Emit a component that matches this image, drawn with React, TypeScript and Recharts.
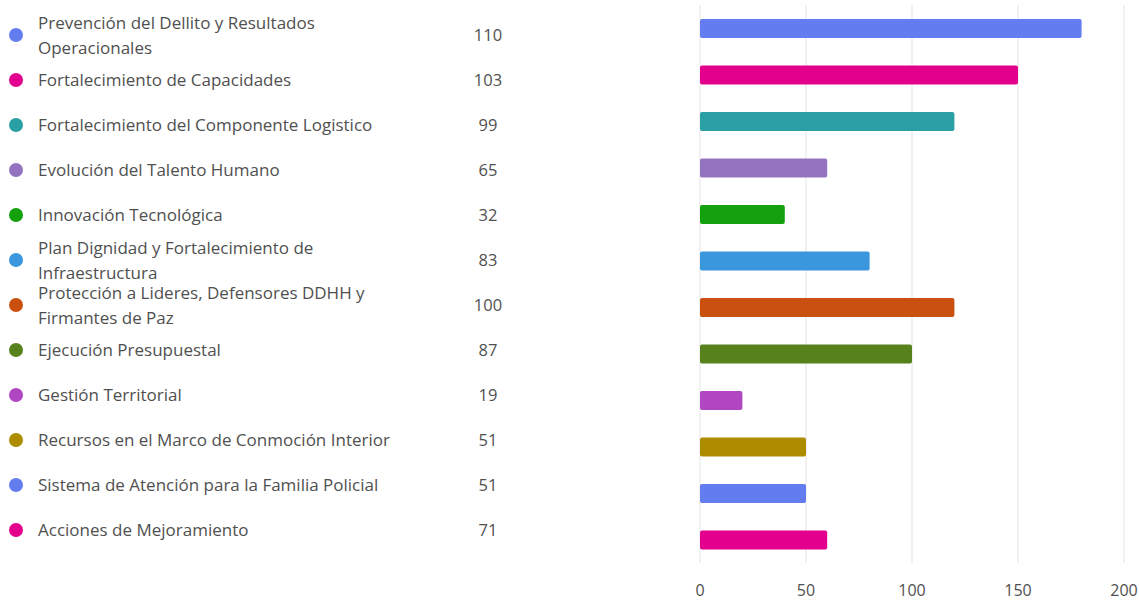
import React from 'react';
import { BarChart, Bar, XAxis, YAxis, CartesianGrid, Cell } from 'recharts';

const categories = [
  'Prevención del Dellito y Resultados\nOperacionales',
  'Fortalecimiento de Capacidades',
  'Fortalecimiento del Componente Logistico',
  'Evolución del Talento Humano',
  'Innovación Tecnológica',
  'Plan Dignidad y Fortalecimiento de\nInfraestructura',
  'Protección a Lideres, Defensores DDHH y\nFirmantes de Paz',
  'Ejecución Presupuestal',
  'Gestión Territorial',
  'Recursos en el Marco de Conmoción Interior',
  'Sistema de Atención para la Familia Policial',
  'Acciones de Mejoramiento',
];

const counts = [110, 103, 99, 65, 32, 83, 100, 87, 19, 51, 51, 71];

const barValues = [180, 150, 120, 60, 40, 80, 120, 100, 20, 50, 50, 60];

const colors = [
  '#637CEF', '#E3008C', '#2AA0A4', '#9373C0', '#13A10E', '#3A96DD',
  '#CA5010', '#57811B', '#B146C2', '#AE8C00', '#637CEF', '#E3008C',
];

const xTicks = [0, 50, 100, 150, 200];

const FONT = '"Segoe UI", "Open Sans", "Noto Sans", sans-serif';
const TEXT = '#505050';

const data = categories.map((name, i) => ({ name, value: barValues[i] }));

const Legend: React.FC = () => (
  <div style={{ position: 'absolute', top: 12, left: 0, width: 520, fontFamily: FONT, color: TEXT }}>
    {categories.map((name, i) => (
      <div key={i} style={{ position: 'relative', height: 45 }}>
        <span
          style={{
            position: 'absolute', left: 9, top: 16, width: 14, height: 14,
            borderRadius: '50%', background: colors[i],
          }}
        />
        <div
          style={{
            position: 'absolute', left: 38, top: 0, height: 45, display: 'flex',
            alignItems: 'center', fontSize: 17, lineHeight: '25px', whiteSpace: 'pre',
          }}
        >
          {name}
        </div>
        <div
          style={{
            position: 'absolute', left: 448, width: 80, top: 0, height: 45, display: 'flex',
            alignItems: 'center', justifyContent: 'center', fontSize: 16.5,
          }}
        >
          {counts[i]}
        </div>
      </div>
    ))}
  </div>
);

const App: React.FC = () => {
  return (
    <div style={{ position: 'absolute', top: 0, left: 0, width: 1139, height: 602, background: '#fff' }}>
      <BarChart
        width={1139}
        height={602}
        data={data}
        layout="vertical"
        margin={{ top: 5, right: 15, bottom: 9, left: 0 }}
        barCategoryGap={0}
      >
        <CartesianGrid horizontal={false} stroke="#e3e3e3" />
        <XAxis
          type="number"
          domain={[0, 200]}
          ticks={xTicks}
          axisLine={false}
          tickLine={false}
          tickMargin={16}
          interval={0}
          tick={{ fill: TEXT, fontSize: 16, fontFamily: FONT }}
        />
        <YAxis type="category" dataKey="name" width={700} tick={false} axisLine={false} tickLine={false} />
        <Bar dataKey="value" barSize={19} radius={2} isAnimationActive={false}>
          {data.map((_, i) => (
            <Cell key={i} fill={colors[i]} />
          ))}
        </Bar>
      </BarChart>
      <Legend />
    </div>
  );
};

export default App;
